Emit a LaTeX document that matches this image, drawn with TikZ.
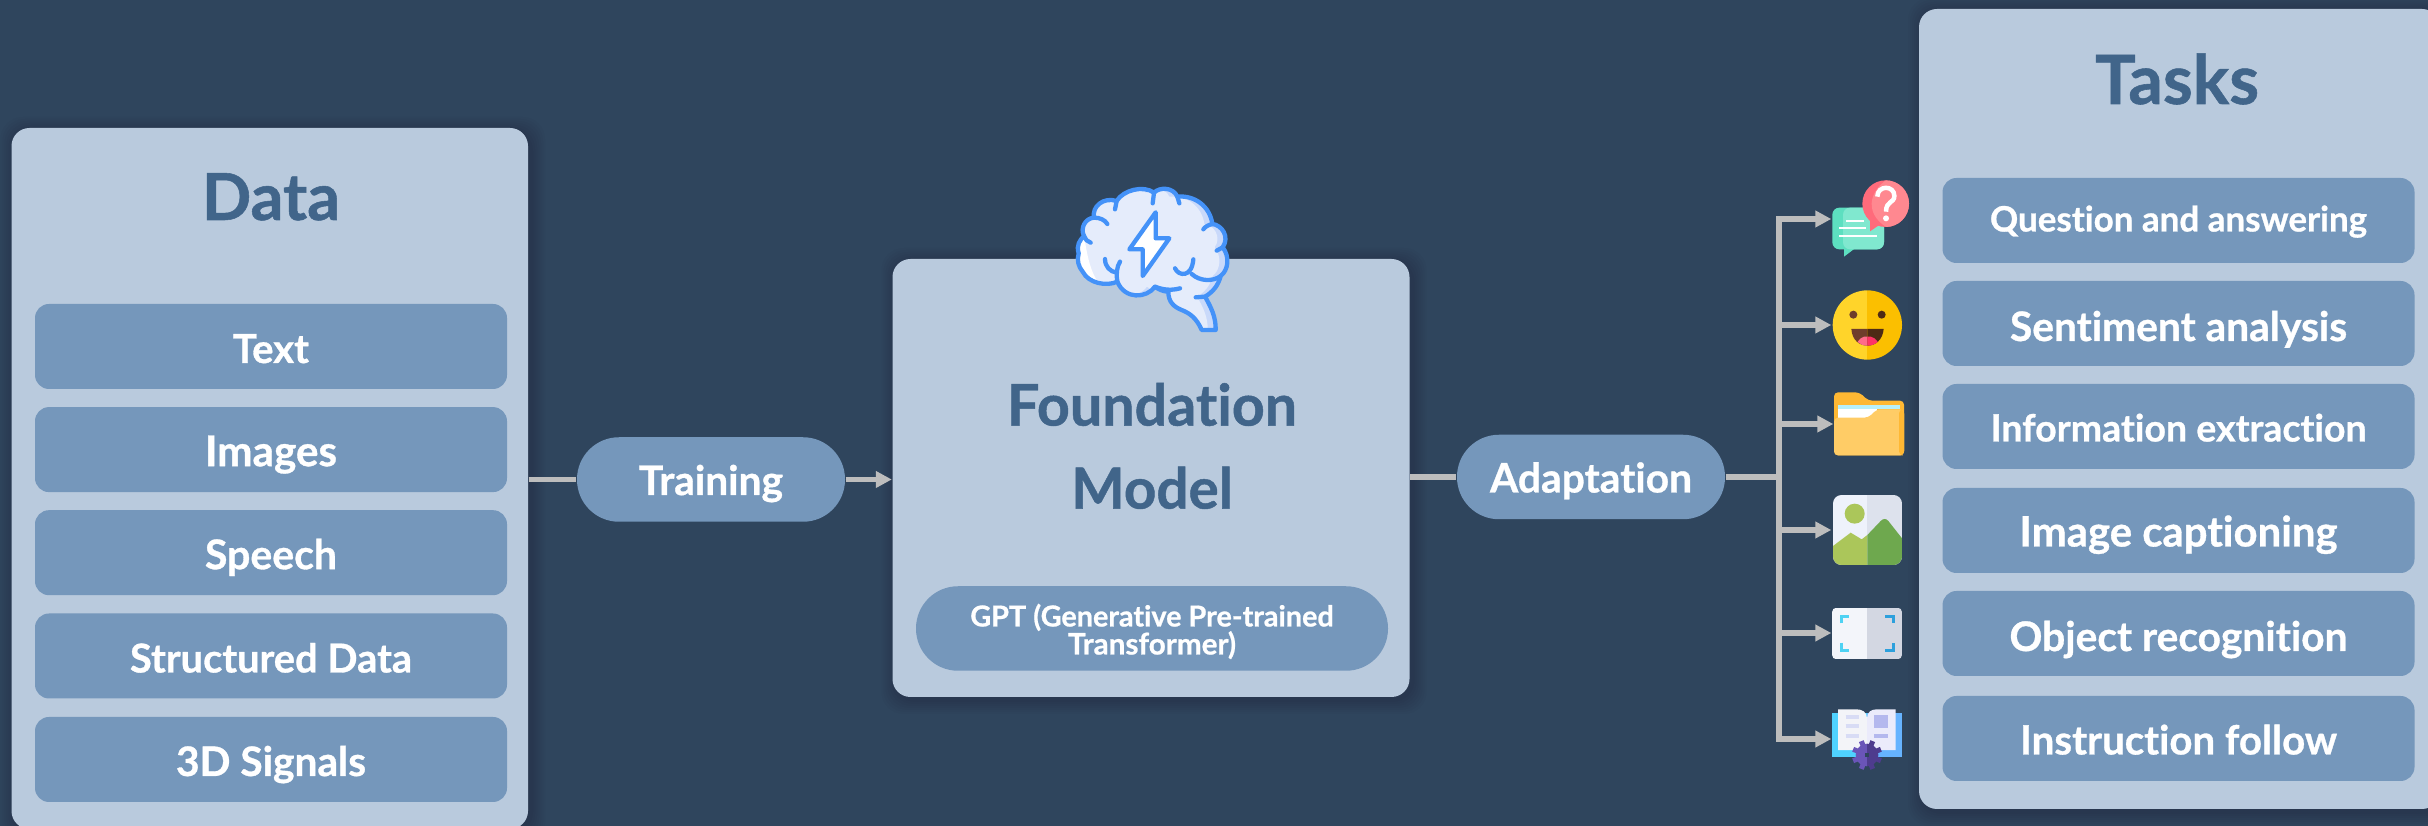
\documentclass[tikz,border=0pt]{standalone}
\usepackage{fontspec}
\usepackage{graphicx}
\setmainfont{Lato}[Ligatures=NoCommon,BoldFeatures={FakeBold=0.8}]
\usetikzlibrary{arrows.meta,calc}
\definecolor{bgc}{HTML}{2F455D}
\definecolor{panelc}{HTML}{B9CADD}
\definecolor{btnc}{HTML}{7597BB}
\definecolor{titlec}{HTML}{41658A}
\definecolor{connc}{HTML}{BDBDBD}
\definecolor{brainline}{HTML}{4492F8}
\definecolor{brainfill}{HTML}{E5ECFB}
\definecolor{brainshade}{HTML}{C9D9FA}
\definecolor{HTMLa}{HTML}{5DDFC0}
\definecolor{HTMLb}{HTML}{80E8CF}
\definecolor{HTMLc}{HTML}{FF6B7B}
\definecolor{HTMLd}{HTML}{FF8890}
\definecolor{HTMLe}{HTML}{FFD42A}
\definecolor{HTMLf}{HTML}{FBBF00}
\definecolor{HTMLg}{HTML}{6F3D2B}
\definecolor{HTMLh}{HTML}{4E2A15}
\definecolor{HTMLi}{HTML}{FF6B8A}
\definecolor{HTMLj}{HTML}{FF3366}
\definecolor{HTMLk}{HTML}{FFB833}
\definecolor{HTMLl}{HTML}{FFCC66}
\definecolor{HTMLm}{HTML}{EEF2FB}
\definecolor{HTMLn}{HTML}{B8F0FA}
\definecolor{HTMLo}{HTML}{DDE2ED}
\definecolor{HTMLp}{HTML}{ABC65A}
\definecolor{HTMLq}{HTML}{6EA84E}
\definecolor{HTMLr}{HTML}{F3F5FA}
\definecolor{HTMLs}{HTML}{D3D7E2}
\definecolor{HTMLt}{HTML}{4FD2F3}
\definecolor{HTMLu}{HTML}{2DA0DC}
\definecolor{HTMLv}{HTML}{4FD2FF}
\definecolor{HTMLw}{HTML}{66B3FF}
\definecolor{HTMLx}{HTML}{F3F4F8}
\definecolor{HTMLy}{HTML}{EBEBFB}
\definecolor{HTMLz}{HTML}{D8DCF5}
\definecolor{HTMLaa}{HTML}{B4B8EE}
\definecolor{HTMLab}{HTML}{6A55B8}
\definecolor{HTMLac}{HTML}{4E3C8E}
\lineskiplimit=-100pt
\newcommand{\fit}[2]{\resizebox{#1mm}{!}{#2}}
\newcommand{\pshadow}[4]{%
  \foreach \s in {2,4,...,14}{%
    \fill[black,opacity=.02,rounded corners=2.2mm]
      ({#1-\s+3},{#2-\s+3}) rectangle ({#3+\s+3},{#4+\s+3});}}
\tikzset{
  panel/.style={fill=panelc,rounded corners=1.8mm,inner sep=0pt,minimum width=#1},
  btn/.style={fill=btnc,text=white,font=\bfseries\fontsize{10pt}{12pt}\selectfont,rounded corners=1.4mm,inner sep=0pt,
     minimum height=8.5mm,text height=3.3mm,text depth=0pt},
  pillbase/.style={fill=btnc,text=white,rounded corners=4.2mm,inner sep=0pt,minimum height=8.45mm},
  pill/.style={pillbase,font=\bfseries\fontsize{10pt}{12pt}\selectfont,text height=3.1mm,text depth=0pt},
  title/.style={text=titlec,font=\bfseries\fontsize{10pt}{12pt}\selectfont,inner sep=0pt,anchor=base},
  conn/.style={draw=connc,line width=.54mm},
  tipped/.style={-{Triangle[length=1.6mm,width=1.6mm]}},
  iconslot/.style={inner sep=0pt,minimum width=14mm,minimum height=1mm},
  brainstroke/.style={draw=brainline,line width=.43mm,line cap=round,line join=round},
  zoomA/.style={shift={(1000,150)},x=.033333mm,y=-.033333mm},
  zoomB/.style={shift={(1760,160)},x=.033333mm,y=-.033333mm},
  zoomC/.style={shift={(1760,460)},x=.033333mm,y=-.033333mm},
}
\begin{document}
\begin{tikzpicture}[x=.1mm,y=-.1mm]
\path[use as bounding box,fill=bgc] (0,0) rectangle (2428,826);
\begin{scope}
\clip (0,0) rectangle (2428,826);
% shadows
\pshadow{11.5}{128}{528}{829}
\pshadow{892.5}{259}{1409.5}{697}
\pshadow{1919}{9}{2440}{809}
% panels
\node[panel=51.65mm,minimum height=70.1mm] (data) at (269.75,478.5) {};
\node[panel=51.7mm,minimum height=43.8mm] (foundation) at (1151,478) {};
\node[panel=52.1mm,minimum height=80mm] (tasks) at (2179.5,409) {};
\end{scope}
% titles
\node[title] (datatitle) at (271,220) {\fit{13.8}{Data}};
\node[title] (taskstitle) at (2177,104) {\fit{16.4}{Tasks}};
\node[text=titlec,font=\bfseries\fontsize{10pt}{8.3mm}\selectfont,inner sep=0pt,align=center] (fmtitle) at (1152,446)
   {\fit{29}{Foundation}\\\fit{16.15}{Model}};
% data buttons
\foreach \n/\y/\w/\t in {b1/346.5/7.6/Text,b2/449.6/13.2/Images,b3/552.7/13.2/Speech,b4/656/28.2/Structured Data,b5/759.5/19/3D Signals}{
  \node[btn,minimum width=47.2mm] (\n) at (271,\y) {\fit{\w}{\t}};
}
% task buttons
\foreach \n/\y/\w/\t/\th in {
  t1/220.5/37.7/Question and answering/2.2mm,
  t2/323.5/33.7/Sentiment analysis/3.5mm,
  t3/426.5/37.6/Information extraction/3.0mm,
  t4/530.5/31.8/Image captioning/3.2mm,
  t5/633.5/33.8/Object recognition/3.5mm,
  t6/738.5/31.7/Instruction follow/3.2mm}{
  \node[btn,text height=\th,minimum width=47.2mm] (\n) at (2178.5,\y) {\fit{\w}{\t}};
}
% pills
\node[pill,minimum width=26.8mm] (training) at (711,479.5) {\fit{14.4}{Training}};
\node[pill,minimum width=26.8mm] (adaptation) at (1591,477) {\fit{20.2}{Adaptation}};
\node[pillbase,minimum width=47.2mm] (gpt) at (1152,628.5) {};
\node[text=white,inner sep=0pt,align=center,font=\bfseries\fontsize{10pt}{2.8mm}\selectfont] (gpttext) at (1152,631.5)
   {\fit{36.35}{GPT (Generative Pre-trained}\\\fit{16.8}{Transformer)}};
% icon slots
\node[iconslot] (ic1) at (1902,219) {};
\node[iconslot] (ic2) at (1902,325) {};
\node[iconslot] (ic3) at (1904,424) {};
\node[iconslot] (ic4) at (1902,530) {};
\node[iconslot] (ic5) at (1902,633) {};
\node[iconslot] (ic6) at (1902,739) {};
\coordinate (jn) at (1779,477);
% connectors
\draw[conn] (data.east |- training.west) -- (training.west);
\draw[conn,tipped] (training.east) -- (foundation.west |- training.east);
\draw[conn] (foundation.east |- adaptation.west) -- (adaptation.west);
\draw[conn] (adaptation.east) -- (jn);
\foreach \i in {1,...,6}{ \draw[conn,tipped] (jn) |- (ic\i.west); }

% brain
\begin{scope}[zoomA]
\def\brainpath{(236,310)
 .. controls (228,285) and (240,270) .. (252,258)
 .. controls (240,235) and (255,205) .. (282,203)
 .. controls (275,170) and (310,140) .. (350,153)
 .. controls (370,120) and (430,105) .. (462,128)
 .. controls (480,110) and (520,112) .. (532,140)
 .. controls (585,135) and (630,170) .. (637,222)
 .. controls (665,225) and (690,260) .. (668,292)
 .. controls (690,320) and (685,360) .. (662,378)
 .. controls (655,405) and (640,425) .. (615,440)
 .. controls (632,470) and (648,500) .. (647,540)
 -- (605,540)
 .. controls (590,505) and (570,490) .. (545,480)
 .. controls (520,470) and (505,455) .. (505,425)
 .. controls (490,425) and (475,418) .. (465,410)
 .. controls (440,445) and (375,450) .. (352,395)
 .. controls (320,410) and (265,400) .. (248,365)
 .. controls (235,350) and (230,330) .. (236,310) -- cycle}
\begin{scope}
 \clip \brainpath;
 \fill[brainshade] (200,90) rectangle (720,560);
 \fill[brainfill,xshift=-.8mm] \brainpath;
 \fill[white] (225,190) .. controls (260,170) and (240,330) .. (300,405) -- (225,405) -- cycle;
\end{scope}
\draw[brainstroke] \brainpath;
\draw[brainstroke] (350,153) -- (345,178);
\draw[brainstroke] (462,128) -- (458,160);
\draw[brainstroke] (532,140) -- (538,160);
\draw[brainstroke] (282,203) .. controls (300,203) and (315,210) .. (322,222);
\draw[brainstroke] (252,258) .. controls (255,268) and (262,275) .. (272,278);
\draw[brainstroke] (637,222) .. controls (625,225) and (615,230) .. (610,238);
\draw[brainstroke] (668,292) -- (650,302);
\draw[brainstroke] (315,327) .. controls (315,350) and (330,365) .. (350,368);
\draw[brainstroke] (360,335) .. controls (350,350) and (348,375) .. (352,395);
\draw[brainstroke] (525,355) .. controls (535,378) and (575,385) .. (580,328);
\draw[brainstroke] (575,372) .. controls (600,395) and (640,395) .. (662,378);
\draw[brainstroke] (465,410) .. controls (490,420) and (515,422) .. (540,415);
\draw[brainstroke] (615,440) -- (587,442);
\fill[white] (467,187) -- (467,265) -- (508,265) -- (428,378) -- (428,298) -- (388,298) -- cycle;
\draw[brainstroke] (467,187) -- (467,265) -- (508,265) -- (428,378) -- (428,298) -- (388,298) -- cycle;
\end{scope}

% question icon
\begin{scope}[zoomB]
\fill[HTMLa] (252,260) -- (252,290) -- (285,265) -- cycle;
\fill[rounded corners=.7mm,fill=HTMLa] (217,143) rectangle (372,268);
\fill[rounded corners=.7mm,fill=HTMLb] (249,143) rectangle (372,268);
\draw[white,line width=.17mm] (258,183) -- (312,183) (237,205) -- (317,205) (237,228) -- (350,228);
\fill[HTMLc] (330,175) -- (330,214) -- (365,190) -- cycle;
\fill[HTMLc] (377,131) circle[radius=70];
\begin{scope}\clip (377,131) circle[radius=70];
\fill[HTMLd] (395,50) .. controls (320,90) and (310,170) .. (395,210) -- (460,210) -- (460,50) -- cycle;
\end{scope}
\draw[white,line width=.45mm] (352,110) .. controls (352,75) and (403,75) .. (403,108) .. controls (403,130) and (378,122) .. (378,155);
\fill[white] (378,175) circle[radius=9];
% smiley
\begin{scope}
\clip (322,495) circle[radius=104];
\fill[HTMLe] (210,385) rectangle (322,605);
\fill[HTMLf] (322,385) rectangle (435,605);
\end{scope}
\fill[HTMLg] (280,464) circle[radius=12];
\fill[HTMLh] (365,464) circle[radius=12];
\fill[HTMLg] (274,507) -- (322,507) -- (322,557) .. controls (298,557) and (276,540) .. (274,507) -- cycle;
\fill[HTMLh] (371,507) -- (322,507) -- (322,557) .. controls (346,557) and (368,540) .. (371,507) -- cycle;
\fill[HTMLi] (293,546) .. controls (305,525) and (322,530) .. (322,530) -- (322,557) .. controls (310,557) and (300,553) .. (293,546) -- cycle;
\fill[HTMLj] (353,546) .. controls (340,525) and (322,530) .. (322,530) -- (322,557) .. controls (334,557) and (345,553) .. (353,546) -- cycle;
% folder
\fill[HTMLk,rounded corners=.4mm] (222,886) -- (222,697) -- (298,697) -- (325,722) -- (432,722) -- (432,886) -- cycle;
\fill[HTMLn] (235,735) rectangle (420,748);
\fill[white] (235,748) rectangle (350,773);
\fill[HTMLl,rounded corners=.4mm] (222,886) -- (222,773) -- (325,773) -- (350,748) -- (432,748) -- (432,886) -- cycle;
\fill[HTMLk,rounded corners=.4mm] (417,748) -- (432,748) -- (432,886) -- (417,886) -- cycle;
\end{scope}

\begin{scope}[zoomC]
% picture icon
\begin{scope}
\clip[rounded corners=.85mm] (219,105) rectangle (426,315);
\fill[HTMLm] (219,105) rectangle (322,315);
\fill[HTMLo] (322,105) rectangle (426,315);
\fill[HTMLp] (284,161) circle[radius=30];
\fill[HTMLp] (219,258) -- (272,218) -- (305,238) -- (322,225) -- (322,315) -- (219,315) -- cycle;
\fill[HTMLq] (322,225) -- (362,183) .. controls (370,175) and (378,175) .. (385,183) -- (426,235) -- (426,315) -- (322,315) -- cycle;
\end{scope}
% scan icon
\begin{scope}
\clip[rounded corners=.45mm] (216,443) rectangle (426,598);
\fill[HTMLr] (216,443) rectangle (321,598);
\fill[HTMLs] (321,443) rectangle (426,598);
\end{scope}
\draw[HTMLt,line width=.3mm] (243,490) -- (243,469) -- (268,469);
\draw[HTMLt,line width=.3mm] (243,548) -- (243,571) -- (268,571);
\draw[HTMLu,line width=.3mm] (375,469) -- (399,469) -- (399,490);
\draw[HTMLu,line width=.3mm] (375,571) -- (399,571) -- (399,548);
% book icon
\fill[HTMLv] (216,759) rectangle (321,891);
\fill[HTMLw] (321,759) rectangle (426,891);
\fill[HTMLx] (234,870) -- (234,748) -- (290,748) .. controls (305,748) and (321,755) .. (321,775) -- (321,870) -- cycle;
\fill[HTMLy] (407,870) -- (407,748) -- (350,748) .. controls (335,748) and (321,755) .. (321,775) -- (321,870) -- cycle;
\draw[HTMLz,line width=.4mm] (257,770) -- (298,770) (257,798) -- (298,798) (257,827) -- (298,827);
\fill[HTMLaa] (343,764) rectangle (385,805);
\draw[HTMLaa,line width=.4mm] (343,827) -- (385,827);
\begin{scope}
\clip (270,830) rectangle (321,940);
\fill[HTMLab] (321,885) circle[radius=34];
\foreach \a in {22.5,67.5,...,337.5}{\draw[HTMLab,line width=.5mm] (321,885) -- ++(\a:45);}
\end{scope}
\begin{scope}
\clip (321,830) rectangle (372,940);
\fill[HTMLac] (321,885) circle[radius=34];
\foreach \a in {22.5,67.5,...,337.5}{\draw[HTMLac,line width=.5mm] (321,885) -- ++(\a:45);}
\end{scope}
\fill[bgc] (315,879) rectangle (327,891);
\end{scope}
\end{tikzpicture}
\end{document}
